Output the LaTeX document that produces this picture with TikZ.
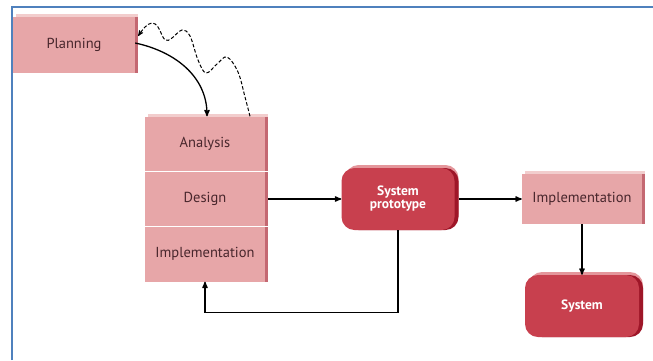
\documentclass[tikz,border=0pt]{standalone}
\usepackage{fontspec}
\setmainfont{PT Sans}
\usetikzlibrary{arrows,positioning,shapes,calc}
\definecolor{pinkfront}{RGB}{231,166,168}
\definecolor{pinktop}{RGB}{242,205,205}
\definecolor{pinkside}{RGB}{196,104,114}
\definecolor{pinktext}{RGB}{72,38,44}
\definecolor{redfront}{RGB}{200,64,78}
\definecolor{redtop}{RGB}{228,150,155}
\definecolor{redside}{RGB}{158,22,40}
\definecolor{frameblue}{RGB}{79,129,189}

\begin{document}
\begin{tikzpicture}[node distance=4cm,on grid,>=stealth',
   phasebox/.style={rectangle,minimum width=120pt,minimum height=55pt,inner sep=0pt,
      fill=pinkfront,text=pinktext,font=\fontsize{14.5}{16}\selectfont,
      preaction={fill=pinktop,transform canvas={shift={(3pt,3pt)}}},
      preaction={fill=pinkside,transform canvas={shift={(3pt,0pt)}}}},
   stackbox/.style={rectangle,minimum width=120pt,minimum height=55pt,inner sep=0pt,
      fill=pinkfront,text=pinktext,font=\fontsize{14.5}{16}\selectfont,
      preaction={fill=pinkside,transform canvas={shift={(3pt,0pt)}}}},
   resultbox/.style={rectangle,rounded corners=13pt,minimum width=114pt,minimum height=62pt,
      inner sep=0pt,align=center,fill=redfront,text=white,
      font=\fontsize{13.5}{15}\selectfont\bfseries,
      preaction={fill=redtop,transform canvas={shift={(4pt,3pt)}}},
      preaction={fill=redside,transform canvas={shift={(4pt,0pt)}}}},
   flow/.style={->,line width=1.3pt},
   wiggle/.style={->,line width=1pt,dash pattern=on 3.5pt off 2pt},
   sep/.style={white,line width=1.2pt}]

   % frame
   \useasboundingbox (0,0) rectangle (653pt,-360pt);
   \draw[frameblue,line width=2pt] (12pt,-360pt) -- (12pt,-7pt) -- (653pt,-7pt);

   \node[phasebox,minimum width=122pt,minimum height=56pt] (plan) at (74pt,-45pt) {Planning};

   \node[phasebox] (ana) [below right=99pt and 131pt of plan] {Analysis};
   \node[stackbox] (des) [below=55pt of ana] {Design};
   \node[stackbox] (imp) [below=55pt of des] {Implementation};
   \draw[sep] (des.north west) -- ([xshift=3pt]des.north east);
   \draw[sep] (imp.north west) -- ([xshift=3pt]imp.north east);

   \node[resultbox,minimum width=113pt] (proto) [right=193pt of des] {System\\[-2pt]prototype};
   \node[phasebox,minimum height=50pt] (impr) [right=184pt of proto] {Implementation};
   \node[resultbox] (sys) [below=107pt of impr] {System};

   \draw[flow] ([yshift=2pt]plan.east) to[out=-12,in=90] ([xshift=2pt]ana.north);
   \draw[wiggle] plot[smooth,tension=0.6] coordinates {([xshift=45pt]ana.north)
      (245pt,-97pt) (238pt,-72pt) (227pt,-57pt) (217pt,-64pt) (206pt,-73pt)
      (198pt,-60pt) (190pt,-36pt) (182pt,-30pt) (172pt,-38pt) (165pt,-40pt)
      (158pt,-27pt) (152pt,-23pt) (145pt,-27pt) ([yshift=9pt,xshift=3pt]plan.east)};

   \draw[flow] (des.east) ++(3pt,0) -- (proto.west);
   \draw[flow] (proto.east) ++(4pt,0) -- (impr.west);
   \draw[flow] (impr.south) -- (sys.north);
   \draw[flow] (proto.south) -- ++(0,-82pt) -| (imp.south);
\end{tikzpicture}
\end{document}
